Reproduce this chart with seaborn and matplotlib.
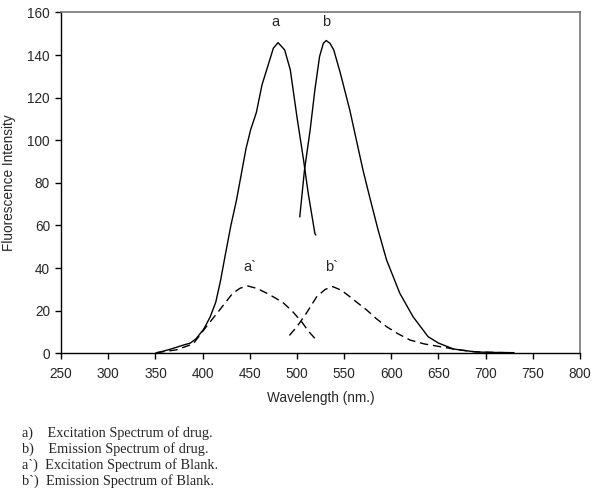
import numpy as np
import pandas as pd
import seaborn as sns
import matplotlib
matplotlib.use("Agg")
import matplotlib.pyplot as plt

#####################################################
## Data
# a) excitation spectrum of drug
exc_drug_wl = [350, 365, 380, 387, 393, 401, 408, 414, 419, 424, 430, 436, 441, 446, 451, 457, 463, 470,
               475, 480, 487, 493, 500, 507, 512, 519, 520]
exc_drug_int = [0, 1.8, 3.9, 4.8, 6.8, 11.2, 17, 24, 34, 46, 60, 72, 84, 96, 105, 113, 126, 136,
                143.2, 145.8, 142.4, 133, 111, 90.8, 75, 56.3, 55.5]

# b) emission spectrum of drug
em_drug_wl = [503, 508, 514, 519, 524, 528, 531, 535, 539, 546, 556, 563, 570, 577, 586, 595, 609, 623,
              639, 650, 666, 690, 710, 730]
em_drug_int = [64, 86, 104.8, 123.6, 139.3, 145.5, 146.8, 145.5, 142.4, 131.5, 114.2, 100.1, 86, 73.5,
               57.9, 43.8, 28.2, 17.2, 7.8, 4.8, 2, 0.6, 0.4, 0.3]

# a`) excitation spectrum of blank
exc_blank_wl = [351, 372, 390, 404, 418, 432, 440, 448, 458, 468, 477, 486, 495, 505, 512, 519]
exc_blank_int = [0.3, 1.6, 4.4, 12.5, 20.3, 28.2, 30.6, 31.6, 30.4, 28.2, 26, 23.5, 19.8, 14.8, 10.5, 7]

# b`) emission spectrum of blank
em_blank_wl = [492, 500, 510, 521, 530, 538, 547, 556, 565, 574, 584, 595, 607, 620, 635, 652, 670, 687,
               700, 720]
em_blank_int = [8.4, 12.5, 18.8, 26.6, 30, 31.3, 29.6, 26.6, 23.4, 20.3, 16.3, 12.5, 9.2, 6.2, 4.4, 3.1,
                1.7, 0.8, 0.5, 0.3]

x_ticks = [250, 300, 350, 400, 450, 500, 550, 600, 650, 700, 750, 800]
y_ticks = [0, 20, 40, 60, 80, 100, 120, 140, 160]

curve_labels = ["a", "b", "a`", "b`"]
label_x = [477, 531, 450, 537]
label_y = [152, 152, 37, 37]

notes = ["a)    Excitation Spectrum of drug.",
         "b)    Emission Spectrum of drug.",
         "a`)  Excitation Spectrum of Blank.",
         "b`)  Emission Spectrum of Blank."]
#####################################################


sns.set_style("white")
plt.rcParams['font.family'] = ['Liberation Sans', 'DejaVu Sans']

fig = plt.figure(figsize=(6, 4.96), dpi=100)
ax = fig.add_axes([0.1017, 0.2877, 0.865, 0.6873])

sns.lineplot(x=exc_drug_wl, y=exc_drug_int, ax=ax, color="black", linewidth=1.0)
sns.lineplot(x=em_drug_wl, y=em_drug_int, ax=ax, color="black", linewidth=1.0)
ax.plot(exc_blank_wl, exc_blank_int, color="black", linewidth=1.0, dashes=(6, 3.5))
ax.plot(em_blank_wl, em_blank_int, color="black", linewidth=1.0, dashes=(6, 3.5))

for lab, lx, ly in zip(curve_labels, label_x, label_y):
    ax.text(lx, ly, lab, ha="center", va="bottom", fontsize=10.5)

ax.set_xlim(250, 800)
ax.set_ylim(0, 160)
ax.set_xticks(x_ticks)
ax.set_yticks(y_ticks)
ax.tick_params(axis="both", direction="out", length=4, width=1, labelsize=9.8,
               bottom=True, left=True, color="black")
ax.tick_params(axis="x", pad=6)
ax.tick_params(axis="y", pad=4)

ax.set_xlabel("Wavelength (nm.)", fontsize=9.8, labelpad=7)
ax.set_ylabel("Fluorescence Intensity", fontsize=9.8, labelpad=8)

for side in ["top", "right"]:
    ax.spines[side].set_color("#777777")
    ax.spines[side].set_linewidth(1.2)
for side in ["left", "bottom"]:
    ax.spines[side].set_color("black")
    ax.spines[side].set_linewidth(1.0)

# notes under the chart
for i, line in enumerate(notes):
    fig.text(22 / 600, 1 - (433 + i * 16) / 496, line, family="Liberation Serif",
             fontsize=10.3, va="center", ha="left")

plt.savefig("out.png", dpi=100)
